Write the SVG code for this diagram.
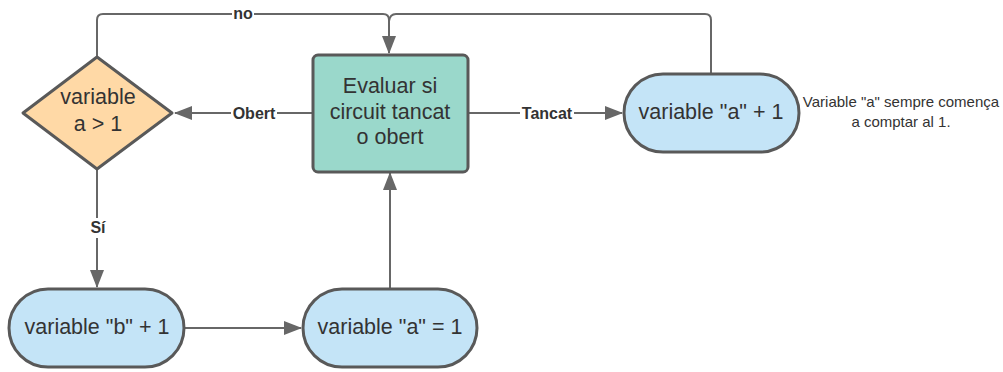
<svg xmlns="http://www.w3.org/2000/svg" width="1003" height="372" viewBox="0 0 1003 372">
  <style>
    .node { stroke: #595959; stroke-width: 3; }
    .decision { fill: #ffd9a6; }
    .process { fill: #9ad8cb; }
    .term { fill: #c4e4f7; }
    .txt { font-family: "Liberation Sans", Arial, sans-serif; font-size: 21.5px; fill: #333333; text-anchor: middle; }
    .edge { fill: none; stroke: #676767; stroke-width: 2; }
    .lbl { font-family: "Liberation Sans", Arial, sans-serif; font-size: 16px; font-weight: bold; fill: #333333; text-anchor: middle; }
    .note { font-family: "Liberation Sans", Arial, sans-serif; font-size: 15px; fill: #333333; text-anchor: middle; }
  </style>
  <defs>
    <marker id="arrow" markerUnits="userSpaceOnUse" markerWidth="18" markerHeight="14" viewBox="0 0 18 14" refX="17" refY="7" orient="auto">
      <path d="M0,0 L18,7 L0,14 Z" fill="#676767"/>
    </marker>
  </defs>
  <rect width="1003" height="372" fill="#ffffff"/>

  <g id="connectors">
    <!-- no: decision back to top of evaluation -->
    <path class="edge" d="M97,56 V20 Q97,14 103,14 H383 Q389,14 389,20 V53" marker-end="url(#arrow)"/>
    <!-- loop from increment of a back to evaluation -->
    <path class="edge" d="M711,73 V20 Q711,14 705,14 H396 Q390,14 389,21"/>
    <!-- Obert -->
    <path class="edge" d="M312,113 H175" marker-end="url(#arrow)"/>
    <!-- Tancat -->
    <path class="edge" d="M469,113 H622" marker-end="url(#arrow)"/>
    <!-- Sí -->
    <path class="edge" d="M97,170 V287" marker-end="url(#arrow)"/>
    <!-- b + 1 to a = 1 -->
    <path class="edge" d="M185,328 H301" marker-end="url(#arrow)"/>
    <!-- a = 1 back to evaluation -->
    <path class="edge" d="M390,288 V173" marker-end="url(#arrow)"/>

    <rect x="232" y="4" width="22" height="20" fill="#ffffff"/>
    <text class="lbl" x="243" y="19">no</text>
    <rect x="231" y="103" width="46" height="20" fill="#ffffff"/>
    <text class="lbl" x="254" y="119">Obert</text>
    <rect x="520" y="103" width="54" height="20" fill="#ffffff"/>
    <text class="lbl" x="547" y="119">Tancat</text>
    <rect x="86" y="218" width="24" height="20" fill="#ffffff"/>
    <text class="lbl" x="98" y="233">Sí</text>
  </g>

  <g id="decision-a">
    <path class="node decision" d="M97,57 L172,113 L97,169 L23,113 Z" stroke-linejoin="round"/>
    <text class="txt" x="98" y="104">variable</text>
    <text class="txt" x="98" y="131">a &gt; 1</text>
  </g>

  <g id="evaluate">
    <rect class="node process" x="313" y="55" width="155" height="117" rx="5"/>
    <text class="txt" x="390" y="93">Evaluar si</text>
    <text class="txt" x="390" y="119">circuit tancat</text>
    <text class="txt" x="390" y="144">o obert</text>
  </g>

  <g id="increment-a">
    <rect class="node term" x="624" y="74" width="175" height="78" rx="39"/>
    <text class="txt" x="711" y="119">variable "a" + 1</text>
  </g>

  <g id="note">
    <text class="note" x="901" y="107">Variable "a" sempre comença</text>
    <text class="note" x="901" y="127">a comptar al 1.</text>
  </g>

  <g id="increment-b">
    <rect class="node term" x="9" y="289" width="175" height="78" rx="39"/>
    <text class="txt" x="97" y="334">variable "b" + 1</text>
  </g>

  <g id="reset-a">
    <rect class="node term" x="303" y="289" width="174" height="78" rx="39"/>
    <text class="txt" x="390" y="334">variable "a" = 1</text>
  </g>
</svg>
